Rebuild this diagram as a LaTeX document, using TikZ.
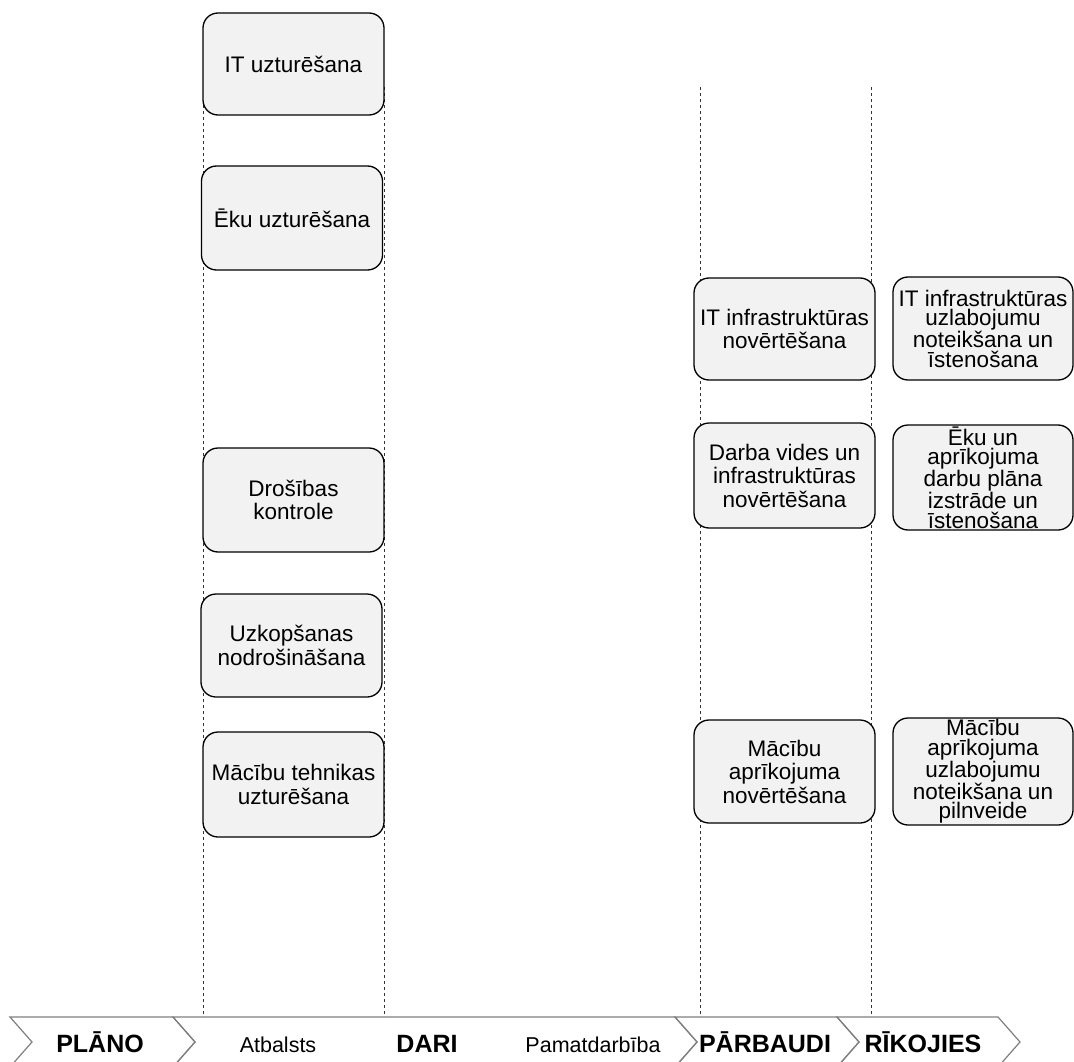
\documentclass[tikz,border=0pt]{standalone}
\usepackage{fontspec}
\setmainfont{Liberation Sans}

\definecolor{boxfill}{HTML}{F2F2F2}
\definecolor{bargray}{HTML}{7F7F7F}

\begin{document}
\begin{tikzpicture}[x=1pt, y=-1pt,
   box/.style={draw, line width=1.3pt, fill=boxfill, rounded corners=15pt, inner sep=0pt,
      align=center, minimum width=181pt, minimum height=103pt, font=\fontsize{22.5}{23.5}\selectfont},
   tight/.style={font=\fontsize{22.5}{19.5}\selectfont},
   lane/.style={line width=0.6pt, dash pattern=on 3pt off 3pt, black!80},
   phase/.style={draw=bargray, line width=1.2pt},
   phasebold/.style={anchor=base, font=\fontsize{25}{25}\bfseries\selectfont},
   phasetext/.style={anchor=base, font=\fontsize{21.5}{22}\selectfont}]
\useasboundingbox (0,0) rectangle (1074,1062);

% lane limits
\coordinate (l1t) at (203,87);  \coordinate (l1b) at (203,1017);
\coordinate (l2t) at (384,87);  \coordinate (l2b) at (384,1017);
\coordinate (l3t) at (700,87);  \coordinate (l3b) at (700,1017);
\coordinate (l4t) at (871,87);  \coordinate (l4b) at (871,1017);
\foreach \l in {l1,l2,l3,l4}
   \draw[lane] (\l t) -- (\l b);

% support column
\node[box, minimum height=102pt] (itu) at (293.5,64) {IT uzturēšana};
\node[box, minimum height=104pt] (eku) at (292,218) {Ēku uzturēšana};
\node[box, minimum height=104pt] (dro) at (293.5,500) {Drošības\\kontrole};
\node[box] (uzk) at (291.5,645.5) {Uzkopšanas\\nodrošināšana};
\node[box, minimum height=105pt] (mtu) at (293.5,784.5) {Mācību tehnikas\\uzturēšana};

% check column
\node[box, minimum height=102pt] (itn) at (784.5,329) {IT infrastruktūras\\novērtēšana};
\node[box, minimum height=105pt] (dvn) at (784.5,475.5) {Darba vides un\\infrastruktūras\\novērtēšana};
\node[box] (man) at (784.5,771.5) {Mācību\\aprīkojuma\\novērtēšana};

% act column
\node[box, tight, minimum width=180pt] (itr) at (983,328.5) {IT infrastruktūras\\uzlabojumu\\noteikšana un\\īstenošana};
\node[box, tight, minimum width=180pt, minimum height=105pt] (ekr) at (983,477.5) {Ēku un\\aprīkojuma\\darbu plāna\\izstrāde un\\īstenošana};
\node[box, tight, minimum width=180pt, minimum height=107pt] (mar) at (983,771.5) {Mācību\\aprīkojuma\\uzlabojumu\\noteikšana un\\pilnveide};

% phase bar
\foreach \a/\b in {10/173, 173/675, 675/837, 837/998}
   \draw[phase] (\a,1017) -- (\b,1017) -- (\b+22,1042) -- (\b,1067) -- (\a,1067) -- (\a+22,1042) -- cycle;
\node[phasebold] (plan) at (100,1052) {PLĀNO};
\node[phasetext] (atb) at (278,1052) {Atbalsts};
\node[phasebold] (dari) at (427,1052) {DARI};
\node[phasetext] (pam) at (593,1052) {Pamatdarbība};
\node[phasebold] (parb) at (765,1052) {PĀRBAUDI};
\node[phasebold] (rik) at (923,1052) {RĪKOJIES};
\end{tikzpicture}
\end{document}
